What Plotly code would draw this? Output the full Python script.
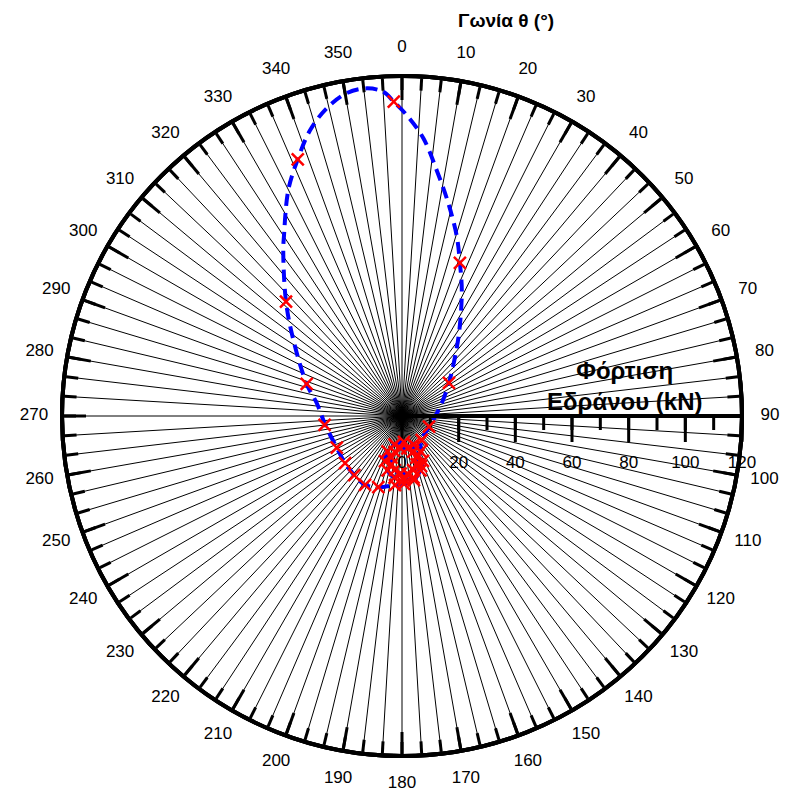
import plotly.graph_objects as go

# ---- data (bearing load r in kN, angle theta in degrees) ----
curve_r = [116.3, 114.6, 111.0, 106.2, 98.3, 87.7, 76.8, 66.2, 57.8, 49.2, 36.5, 28.1,
           20.3, 14.7, 11.65, 10.25, 10.96,
           14.1, 17.5, 20.3, 22.1, 22.6, 21.9, 19.9, 17.0, 13.5, 10.4, 9.2, 10.85,
           13.2, 15.6, 17.8, 19.5, 20.4, 20.3, 19.3, 17.5, 15.15, 12.9, 11.45, 11.6,
           14.9, 18.9, 23.0, 24.0,
           24.5, 26.5, 27.6, 26.8, 26.1, 25.6, 27.3, 30.4, 35.5, 46.8, 57.5, 72.0, 75.8,
           89.3, 97.8, 106.0, 111.8, 115.6, 116.3]
curve_theta = [353.9, 356.7, 358.5, 0.9, 4.4, 8.0, 12.3, 17.0, 20.7, 25.4, 33.7, 41.8,
               54.7, 72.3, 91.2, 111.6, 140.6,
               152.5, 155.0, 161.25, 169.4, 178.2, 186.95, 194.9, 200.7, 202.2, 194.7,
               175.6, 158.0,
               162.6, 160.7, 163.2, 168.3, 174.6, 181.4, 187.6, 192.35, 194.3, 191.4,
               182.5, 170.5,
               157.7, 159.2, 169.4, 178.3,
               185.8, 198.4, 208.2, 218.9, 230.3, 244.1, 263.7, 278.5, 288.6, 305.0, 314.6,
               324.4, 326.65, 333.3, 337.9, 342.2, 346.25, 350.3, 353.9]

marker_r = [111.0, 57.8, 20.3, 10.25, 10.96,
            14.1, 17.5, 20.3, 22.1, 22.6, 21.9, 19.9, 17.0, 13.5, 10.4, 9.2, 10.85,
            13.2, 15.6, 17.8, 19.5, 20.4, 20.3, 19.3, 17.5, 15.15, 12.9, 11.45, 11.6,
            14.9, 18.9, 23.0, 24.0,
            24.5, 26.5, 27.6, 26.8, 26.1, 25.6, 27.5, 35.5, 57.5, 97.8]
marker_theta = [358.5, 20.7, 54.7, 111.6, 140.6,
                152.5, 155.0, 161.25, 169.4, 178.2, 186.95, 194.9, 200.7, 202.2, 194.7,
                175.6, 158.0,
                162.6, 160.7, 163.2, 168.3, 174.6, 181.4, 187.6, 192.35, 194.3, 191.4,
                182.5, 170.5,
                157.7, 159.2, 169.4, 178.3,
                185.8, 198.4, 208.2, 218.9, 230.3, 244.1, 263.4, 288.6, 314.6, 337.9]

radial_range = [0, 120]
radial_major = 20
radial_minor = 10
angle_labels = list(range(0, 360, 10))
angle_minor = 10 / 3

FONT = "Liberation Sans, Arial, sans-serif"

fig = go.Figure()

# invisible anchors so that the axis-only subplots are drawn
for sp in ["polar", "polar2"]:
    fig.add_trace(go.Scatterpolar(r=[0], theta=[0], mode="markers",
                                  marker=dict(opacity=0), subplot=sp,
                                  showlegend=False, hoverinfo="skip"))

fig.add_trace(go.Scatterpolar(
    r=curve_r, theta=curve_theta, mode="lines",
    line=dict(color="#0000ff", width=4, dash="12px,7px", shape="spline", smoothing=1),
    subplot="polar3", showlegend=False, hoverinfo="skip"))

fig.add_trace(go.Scatterpolar(
    r=marker_r, theta=marker_theta, mode="markers",
    marker=dict(symbol="x-thin", size=12, color="#ff0000",
                line=dict(color="#ff0000", width=2.5)),
    subplot="polar3", showlegend=False))

# angle labels: centred on the rim of a slightly larger, invisible polar subplot
fig.add_trace(go.Scatterpolar(
    r=[0.9946] * len(angle_labels), theta=angle_labels,
    text=[str(v) for v in angle_labels], mode="text", textposition="middle center",
    textfont=dict(family=FONT, size=17, color="black"), cliponaxis=False,
    subplot="polar4", showlegend=False, hoverinfo="skip"))

domain = dict(x=[62 / 787, 742 / 787], y=[40 / 796, 720 / 796])
label_domain = dict(x=[32 / 787, 772 / 787], y=[10 / 796, 750 / 796])

base_ang = dict(direction="clockwise", rotation=90, linecolor="black", linewidth=4)
base_rad = dict(range=radial_range, angle=0, side="clockwise", showgrid=False,
                linecolor="black", linewidth=4)

fig.update_layout(
    width=787, height=796,
    margin=dict(l=0, r=0, t=0, b=0),
    paper_bgcolor="white",
    font=dict(family=FONT, size=17, color="black"),
    polar=dict(
        domain=domain, bgcolor="white",
        angularaxis=dict(**base_ang, tickmode="linear", tick0=0, dtick=angle_minor,
                         ticks="inside", ticklen=12, tickwidth=3, tickcolor="black",
                         showticklabels=False,
                         showgrid=True, gridcolor="black", gridwidth=1),
        radialaxis=dict(**base_rad, tickmode="linear", tick0=0, dtick=radial_minor,
                        ticks="outside", ticklen=12, tickwidth=3, tickcolor="black",
                        showticklabels=False),
    ),
    polar2=dict(
        domain=domain, bgcolor="rgba(0,0,0,0)",
        angularaxis=dict(**base_ang, tickmode="linear", tick0=0, dtick=10,
                         ticks="inside", ticklen=22, tickwidth=3, tickcolor="black",
                         showticklabels=False, showgrid=False),
        radialaxis=dict(**base_rad, tickmode="linear", tick0=0, dtick=radial_major,
                        ticks="outside", ticklen=24, tickwidth=3, tickcolor="black",
                        showticklabels=False),
    ),
    polar3=dict(
        domain=domain, bgcolor="rgba(0,0,0,0)",
        angularaxis=dict(**base_ang, ticks="", showticklabels=False, showgrid=False),
        radialaxis=dict(**base_rad, tickmode="linear", tick0=0, dtick=radial_major,
                        ticks="outside", ticklen=30, tickcolor="rgba(0,0,0,0)",
                        showticklabels=True,
                        tickfont=dict(family=FONT, size=17, color="black")),
    ),
    polar4=dict(
        domain=label_domain, bgcolor="rgba(0,0,0,0)",
        angularaxis=dict(direction="clockwise", rotation=90, showline=False, ticks="",
                         showticklabels=False, showgrid=False),
        radialaxis=dict(range=[0, 1], showline=False, ticks="", showticklabels=False,
                        showgrid=False),
    ),
    annotations=[
        dict(text="<b>Γωνία θ (°)</b>", x=506 / 787, y=1 - 20 / 796, xref="paper",
             yref="paper", xanchor="center", yanchor="middle", showarrow=False,
             font=dict(family=FONT, size=19, color="black")),
        dict(text="<b>Φόρτιση</b><br><b>Εδράνου (kN)</b>", x=624 / 787, y=1 - 386 / 796,
             xref="paper", yref="paper", xanchor="center", yanchor="middle",
             showarrow=False, font=dict(family=FONT, size=24, color="black")),
    ],
)

fig.write_html("out.html")
